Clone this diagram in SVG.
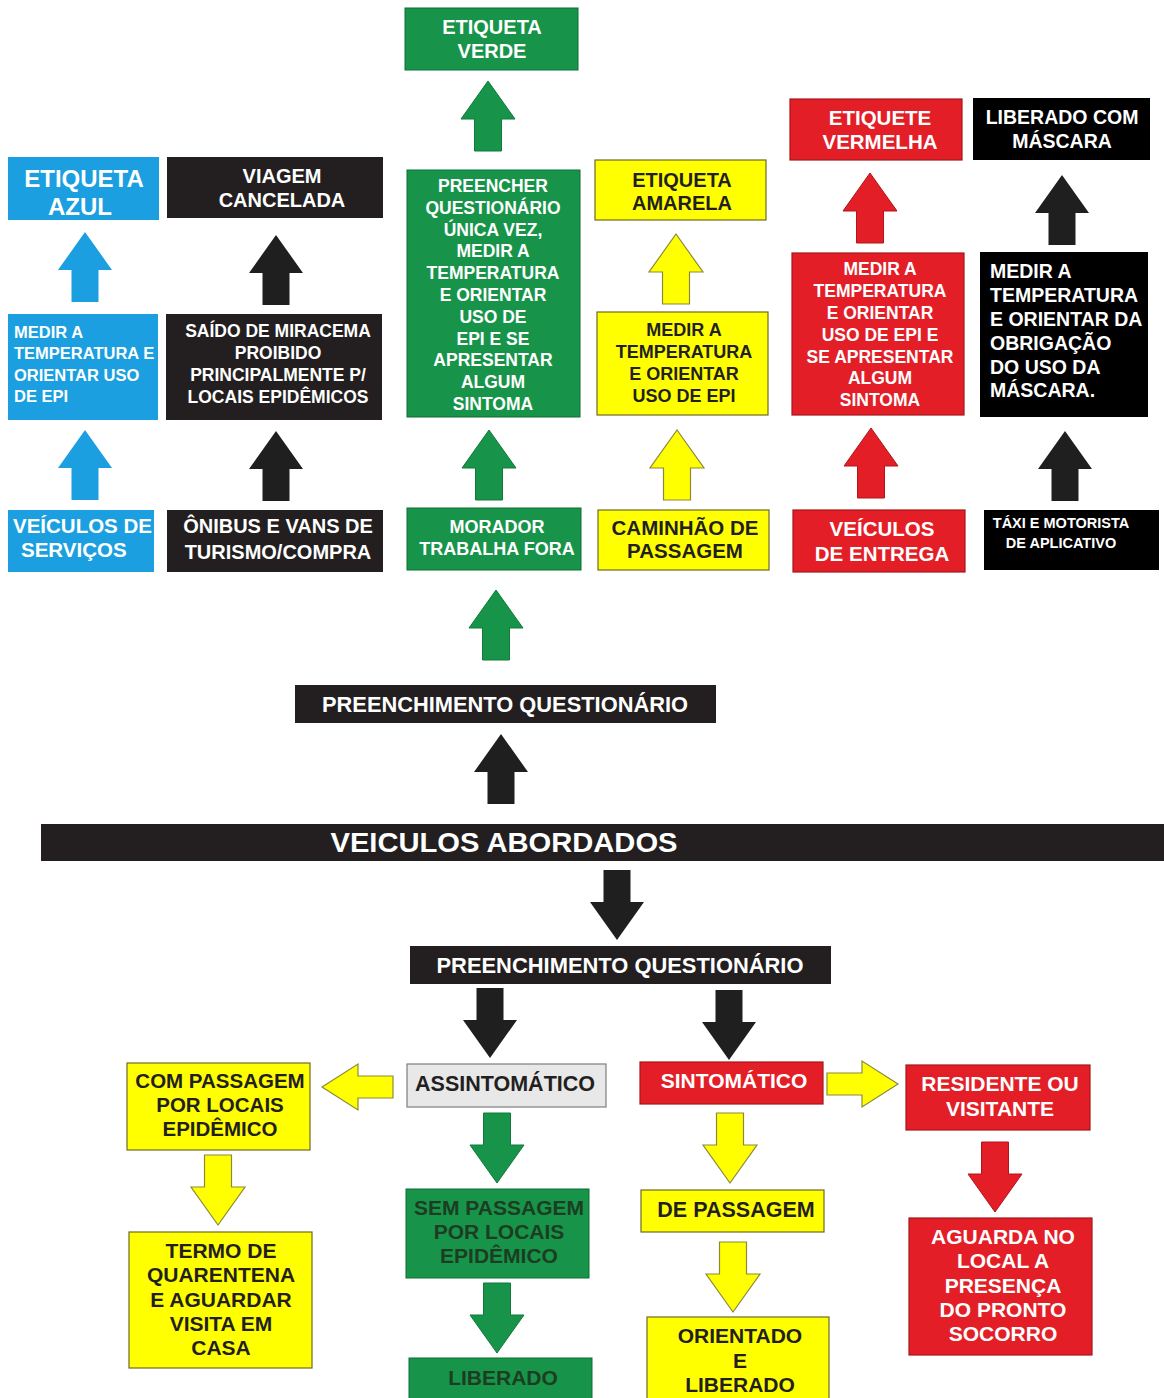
<svg xmlns="http://www.w3.org/2000/svg" xmlns:xlink="http://www.w3.org/1999/xlink" width="1164" height="1398" viewBox="0 0 1164 1398">
<style>
.bg{fill:#fff}
.blue{fill:#1c9fe0}
.blk{fill:#231f20}
.pblk{fill:#000}
.grn{fill:#179449;stroke:#0f6e33;stroke-width:1}
.yel{fill:#ffff00;stroke:#6e6a28;stroke-width:1.2}
.red{fill:#e31e26;stroke:#a3161c;stroke-width:1.2}
.gry{fill:#e8e8e8;stroke:#7d7d7d;stroke-width:1.2}
text{font-family:"Liberation Sans",Arial,Helvetica,sans-serif;font-weight:bold;text-anchor:middle}
.w{fill:#fff}
.d{fill:#231f20}
.dg{fill:#1c3d22}
.l{text-anchor:start}
.ab{fill:#1c9fe0}
.ak{fill:#1f1f1f}
.ag{fill:#179449;stroke:#0f7a3a;stroke-width:1}
.ay{fill:#ffff00;stroke:#8c8a3a;stroke-width:1.2}
.ar{fill:#e31e26;stroke:#b0161c;stroke-width:1}
</style>
<defs>
<polygon id="au" points="0,0 27,38 13.5,38 13.5,70 -13.5,70 -13.5,38 -27,38"/>
<polygon id="ah" points="0,0 36,-23 36,-11 71,-11 71,11 36,11 36,23"/>
</defs>
<rect class="bg" x="0" y="0" width="1164" height="1398"/>

<g id="connectors">
<use href="#au" class="ab" transform="translate(85,232)"/>
<use href="#au" class="ak" transform="translate(276,235)"/>
<use href="#au" class="ab" transform="translate(85,430)"/>
<use href="#au" class="ak" transform="translate(276,431)"/>
<use href="#au" class="ag" transform="translate(488,81)"/>
<use href="#au" class="ay" transform="translate(676,234)"/>
<use href="#au" class="ag" transform="translate(489,430)"/>
<use href="#au" class="ay" transform="translate(677,430)"/>
<use href="#au" class="ag" transform="translate(496,590)"/>
<use href="#au" class="ar" transform="translate(870,173)"/>
<use href="#au" class="ak" transform="translate(1062,175)"/>
<use href="#au" class="ar" transform="translate(871,428)"/>
<use href="#au" class="ak" transform="translate(1065,431)"/>
<use href="#au" class="ak" transform="translate(501,734)"/>
<use href="#au" class="ak" transform="translate(617,940) rotate(180)"/>
<use href="#au" class="ak" transform="translate(490,1058) rotate(180)"/>
<use href="#au" class="ak" transform="translate(729,1060) rotate(180)"/>
<use href="#ah" class="ay" transform="translate(322,1087)"/>
<use href="#ah" class="ay" transform="translate(898,1084) rotate(180)"/>
<use href="#au" class="ag" transform="translate(497,1183) rotate(180)"/>
<use href="#au" class="ay" transform="translate(730,1183) rotate(180)"/>
<use href="#au" class="ay" transform="translate(218,1225) rotate(180)"/>
<use href="#au" class="ar" transform="translate(995,1212) rotate(180)"/>
<use href="#au" class="ag" transform="translate(497,1353) rotate(180)"/>
<use href="#au" class="ay" transform="translate(733,1312) rotate(180)"/>
</g>

<g id="etiqueta-azul">
<rect class="blue" x="8" y="157" width="151" height="63"/>
<text class="w" font-size="24"><tspan x="84" y="187">ETIQUETA</tspan><tspan x="80" y="215">AZUL</tspan></text>
</g>
<g id="viagem-cancelada">
<rect class="blk" x="167" y="157" width="216" height="61"/>
<text class="w" font-size="20"><tspan x="282" y="183">VIAGEM</tspan><tspan x="282" y="207">CANCELADA</tspan></text>
</g>
<g id="medir-azul">
<rect class="blue" x="8" y="314" width="150" height="106"/>
<text class="w l" font-size="16.5"><tspan x="14" y="338">MEDIR A</tspan><tspan x="14" y="359">TEMPERATURA E</tspan><tspan x="14" y="381">ORIENTAR USO</tspan><tspan x="14" y="402">DE EPI</tspan></text>
</g>
<g id="saido-miracema">
<rect class="blk" x="166" y="314" width="216" height="106"/>
<text class="w" font-size="17.5"><tspan x="278" y="337">SAÍDO DE MIRACEMA</tspan><tspan x="278" y="359">PROIBIDO</tspan><tspan x="278" y="381">PRINCIPALMENTE P/</tspan><tspan x="278" y="403">LOCAIS EPIDÊMICOS</tspan></text>
</g>
<g id="veiculos-servicos">
<rect class="blue" x="8" y="510" width="146" height="62"/>
<text class="w l" font-size="20.5"><tspan x="13" y="533">VEÍCULOS DE</tspan><tspan x="21" y="557">SERVIÇOS</tspan></text>
</g>
<g id="onibus-vans">
<rect class="blk" x="167" y="510" width="216" height="62"/>
<text class="w" font-size="20"><tspan x="278" y="533">ÔNIBUS E VANS DE</tspan><tspan x="278" y="559">TURISMO/COMPRA</tspan></text>
</g>

<g id="etiqueta-verde">
<rect class="grn" x="405" y="8" width="173" height="62"/>
<text class="w" font-size="20"><tspan x="492" y="34">ETIQUETA</tspan><tspan x="492" y="58">VERDE</tspan></text>
</g>
<g id="preencher-verde">
<rect class="grn" x="407" y="170" width="173" height="247"/>
<text class="w" font-size="17.5"><tspan x="493" y="192">PREENCHER</tspan><tspan x="493" y="214">QUESTIONÁRIO</tspan><tspan x="493" y="236">ÚNICA VEZ,</tspan><tspan x="493" y="257">MEDIR A</tspan><tspan x="493" y="279">TEMPERATURA</tspan><tspan x="493" y="301">E ORIENTAR</tspan><tspan x="493" y="323">USO DE</tspan><tspan x="493" y="345">EPI E SE</tspan><tspan x="493" y="366">APRESENTAR</tspan><tspan x="493" y="388">ALGUM</tspan><tspan x="493" y="410">SINTOMA</tspan></text>
</g>
<g id="etiqueta-amarela">
<rect class="yel" x="595" y="160" width="171" height="60"/>
<text class="d" font-size="20"><tspan x="682" y="187">ETIQUETA</tspan><tspan x="682" y="210">AMARELA</tspan></text>
</g>
<g id="medir-amarelo">
<rect class="yel" x="597" y="312" width="171" height="103"/>
<text class="d" font-size="18"><tspan x="684" y="336">MEDIR A</tspan><tspan x="684" y="358">TEMPERATURA</tspan><tspan x="684" y="380">E ORIENTAR</tspan><tspan x="684" y="402">USO DE EPI</tspan></text>
</g>
<g id="morador">
<rect class="grn" x="407" y="508" width="174" height="62"/>
<text class="w" font-size="18"><tspan x="497" y="533">MORADOR</tspan><tspan x="497" y="555">TRABALHA FORA</tspan></text>
</g>
<g id="caminhao">
<rect class="yel" x="598" y="510" width="171" height="60"/>
<text class="d" font-size="20.5"><tspan x="685" y="535">CAMINHÃO DE</tspan><tspan x="685" y="558">PASSAGEM</tspan></text>
</g>

<g id="etiquete-vermelha">
<rect class="red" x="790" y="99" width="172" height="61"/>
<text class="w" font-size="20.5"><tspan x="880" y="125">ETIQUETE</tspan><tspan x="880" y="149">VERMELHA</tspan></text>
</g>
<g id="liberado-mascara">
<rect class="pblk" x="973" y="98" width="177" height="62"/>
<text class="w" font-size="19.5"><tspan x="1062" y="124">LIBERADO COM</tspan><tspan x="1062" y="148">MÁSCARA</tspan></text>
</g>
<g id="medir-vermelho">
<rect class="red" x="792" y="253" width="172" height="162"/>
<text class="w" font-size="17.5"><tspan x="880" y="275">MEDIR A</tspan><tspan x="880" y="297">TEMPERATURA</tspan><tspan x="880" y="319">E ORIENTAR</tspan><tspan x="880" y="341">USO DE EPI E</tspan><tspan x="880" y="363">SE APRESENTAR</tspan><tspan x="880" y="384">ALGUM</tspan><tspan x="880" y="406">SINTOMA</tspan></text>
</g>
<g id="medir-mascara">
<rect class="pblk" x="980" y="252" width="168" height="165"/>
<text class="w l" font-size="19.5"><tspan x="990" y="278">MEDIR A</tspan><tspan x="990" y="302">TEMPERATURA</tspan><tspan x="990" y="326">E ORIENTAR DA</tspan><tspan x="990" y="350">OBRIGAÇÃO</tspan><tspan x="990" y="374">DO USO DA</tspan><tspan x="990" y="397">MÁSCARA.</tspan></text>
</g>
<g id="veiculos-entrega">
<rect class="red" x="793" y="510" width="172" height="62"/>
<text class="w" font-size="20.5"><tspan x="882" y="536">VEÍCULOS</tspan><tspan x="882" y="561">DE ENTREGA</tspan></text>
</g>
<g id="taxi">
<rect class="pblk" x="984" y="510" width="175" height="60"/>
<text class="w" font-size="14.5"><tspan x="1061" y="528">TÁXI E MOTORISTA</tspan><tspan x="1061" y="548">DE APLICATIVO</tspan></text>
</g>

<g id="preenchimento-topo">
<rect class="blk" x="295" y="685" width="421" height="38"/>
<text class="w" font-size="22" x="505" y="712" textLength="366" lengthAdjust="spacingAndGlyphs">PREENCHIMENTO QUESTIONÁRIO</text>
</g>
<g id="veiculos-abordados">
<rect class="blk" x="41" y="824" width="1123" height="37"/>
<text class="w" font-size="28" x="504" y="852" textLength="347" lengthAdjust="spacingAndGlyphs">VEICULOS ABORDADOS</text>
</g>
<g id="preenchimento-baixo">
<rect class="blk" x="410" y="946" width="421" height="38"/>
<text class="w" font-size="22" x="620" y="973" textLength="367" lengthAdjust="spacingAndGlyphs">PREENCHIMENTO QUESTIONÁRIO</text>
</g>

<g id="com-passagem">
<rect class="yel" x="127" y="1063" width="183" height="87"/>
<text class="d" font-size="20.5"><tspan x="220" y="1088">COM PASSAGEM</tspan><tspan x="220" y="1112">POR LOCAIS</tspan><tspan x="220" y="1136">EPIDÊMICO</tspan></text>
</g>
<g id="assintomatico">
<rect class="gry" x="407" y="1064" width="199" height="43"/>
<text class="d" font-size="21.5" x="505" y="1091">ASSINTOMÁTICO</text>
</g>
<g id="sintomatico">
<rect class="red" x="640" y="1062" width="183" height="42"/>
<text class="w" font-size="21" x="734" y="1088">SINTOMÁTICO</text>
</g>
<g id="residente">
<rect class="red" x="906" y="1065" width="184" height="65"/>
<text class="w" font-size="21"><tspan x="1000" y="1091">RESIDENTE OU</tspan><tspan x="1000" y="1116">VISITANTE</tspan></text>
</g>
<g id="termo-quarentena">
<rect class="yel" x="129" y="1232" width="183" height="136"/>
<text class="d" font-size="21"><tspan x="221" y="1258">TERMO DE</tspan><tspan x="221" y="1282">QUARENTENA</tspan><tspan x="221" y="1307">E AGUARDAR</tspan><tspan x="221" y="1331">VISITA EM</tspan><tspan x="221" y="1355">CASA</tspan></text>
</g>
<g id="sem-passagem">
<rect class="grn" x="406" y="1189" width="183" height="89"/>
<text class="dg" font-size="21"><tspan x="499" y="1215">SEM PASSAGEM</tspan><tspan x="499" y="1239">POR LOCAIS</tspan><tspan x="499" y="1263">EPIDÊMICO</tspan></text>
</g>
<g id="liberado">
<rect class="grn" x="409" y="1358" width="183" height="45"/>
<text class="dg" font-size="21" x="503" y="1385">LIBERADO</text>
</g>
<g id="de-passagem">
<rect class="yel" x="641" y="1190" width="183" height="42"/>
<text class="d" font-size="21.5" x="736" y="1217">DE PASSAGEM</text>
</g>
<g id="orientado-liberado">
<rect class="yel" x="647" y="1317" width="182" height="86"/>
<text class="d" font-size="21"><tspan x="740" y="1343">ORIENTADO</tspan><tspan x="740" y="1368">E</tspan><tspan x="740" y="1392">LIBERADO</tspan></text>
</g>
<g id="aguarda">
<rect class="red" x="909" y="1218" width="183" height="137"/>
<text class="w" font-size="21"><tspan x="1003" y="1244">AGUARDA NO</tspan><tspan x="1003" y="1268">LOCAL A</tspan><tspan x="1003" y="1293">PRESENÇA</tspan><tspan x="1003" y="1317">DO PRONTO</tspan><tspan x="1003" y="1341">SOCORRO</tspan></text>
</g>
</svg>
